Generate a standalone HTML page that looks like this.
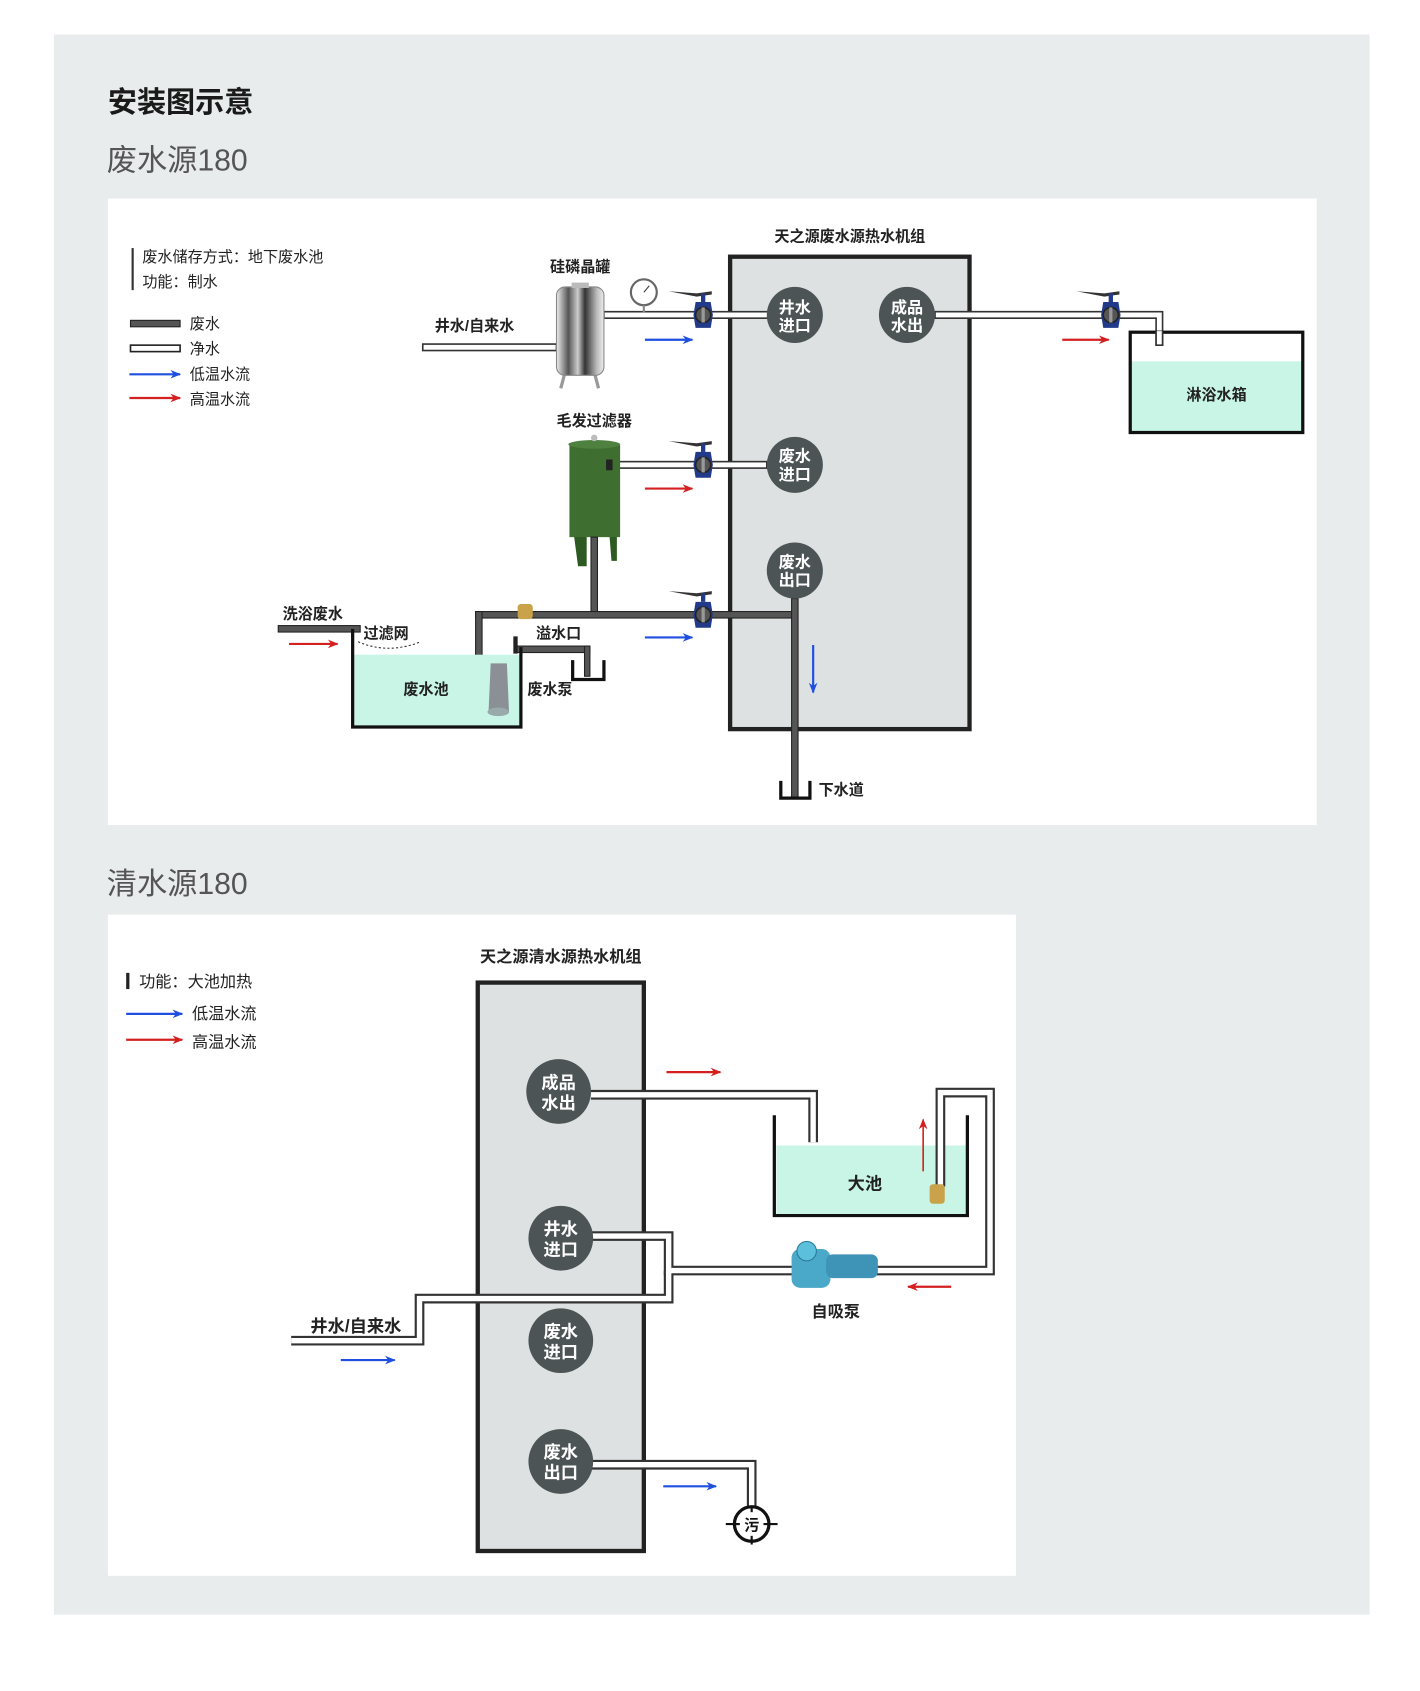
<!DOCTYPE html>
<html><head><meta charset="utf-8"><style>
html,body{margin:0;padding:0;background:#fff;}
svg{display:block;}
text{font-family:"Liberation Sans","Noto Sans CJK SC",sans-serif;}
.b{font-weight:bold;font-size:15px;fill:#222;}
.n{font-size:15px;fill:#222;}
.c{font-weight:bold;font-size:15px;fill:#fff;}
</style></head><body>
<svg width="1420" height="1691" viewBox="0 0 1316.7 1567.8" preserveAspectRatio="none" xmlns="http://www.w3.org/2000/svg">
<defs>
<marker id="ab" markerWidth="10" markerHeight="10" refX="9" refY="5" orient="auto" markerUnits="userSpaceOnUse"><path d="M0,1 L10,5 L0,9 L3,5 Z" fill="#1e4fe0"/></marker>
<marker id="ar" markerWidth="10" markerHeight="10" refX="9" refY="5" orient="auto" markerUnits="userSpaceOnUse"><path d="M0,1 L10,5 L0,9 L3,5 Z" fill="#d42020"/></marker>
<g id="valve">
<path d="M-32,-22 L-6,-20 L8,-22 L8,-19 L-6,-17 Z" fill="#333"/>
<rect x="-2" y="-20" width="4" height="8" fill="#223a8a"/>
<path d="M-7,-12 L7,-12 L9,0 L7,12 L-7,12 L-9,0 Z" fill="#223a8a"/>
<circle r="7" fill="#555" stroke="#222" stroke-width="1.5"/>
<rect x="-1.5" y="-7" width="3" height="14" fill="#999"/>
</g>
</defs>
<rect x="0" y="0" width="1320" height="1572" fill="#fff"/>
<rect x="50" y="32" width="1220" height="1465" fill="#e9ecec"/>
<text x="100" y="104" style="font-weight:bold;font-size:27px;fill:#1a1a1a">安装图示意</text>
<text x="99" y="158" style="font-size:28px;fill:#555">废水源180</text>
<text x="99" y="829" style="font-size:28px;fill:#555">清水源180</text>

<!-- PANEL 1 -->
<rect x="100" y="184" width="1121" height="581" fill="#fff"/>
<line x1="123" y1="230" x2="123" y2="269" stroke="#333" stroke-width="2"/>
<text x="132" y="243" class="n" style="font-size:14px">废水储存方式：地下废水池</text>
<text x="132" y="266" class="n" style="font-size:14px">功能：制水</text>
<rect x="121" y="297" width="46" height="6" fill="#555" stroke="#222" stroke-width="1"/>
<rect x="121" y="320" width="46" height="6" fill="#fff" stroke="#222" stroke-width="1.5"/>
<line x1="120" y1="347" x2="167" y2="347" stroke="#1e4fe0" stroke-width="2" marker-end="url(#ab)"/>
<line x1="120" y1="369" x2="167" y2="369" stroke="#d42020" stroke-width="2" marker-end="url(#ar)"/>
<text x="176" y="305" class="n" style="font-size:14px">废水</text>
<text x="176" y="328" class="n" style="font-size:14px">净水</text>
<text x="176" y="352" class="n" style="font-size:14px">低温水流</text>
<text x="176" y="375" class="n" style="font-size:14px">高温水流</text>

<text x="788" y="224" class="b" text-anchor="middle" style="font-size:14px">天之源废水源热水机组</text>
<rect x="677" y="238" width="222" height="438" fill="#dde1e1" stroke="#222" stroke-width="4"/>

<rect x="392" y="319" width="124" height="6" fill="#fff" stroke="#333" stroke-width="1.5"/>
<rect x="560" y="289" width="152" height="6" fill="#fff" stroke="#333" stroke-width="1.5"/>
<rect x="573" y="428" width="138" height="6" fill="#fff" stroke="#333" stroke-width="1.5"/>
<path d="M867,289 L1078,289 L1078,320 L1072,320 L1072,295 L867,295 Z" fill="#fff" stroke="#333" stroke-width="1.5"/>

<text x="538" y="252" class="b" text-anchor="middle" style="font-size:14px">硅磷晶罐</text>
<text x="440" y="307" class="b" text-anchor="middle" style="font-size:14px">井水/自来水</text>
<defs><linearGradient id="steel" x1="0" x2="1"><stop offset="0" stop-color="#eee"/><stop offset="0.25" stop-color="#555"/><stop offset="0.45" stop-color="#ccc"/><stop offset="0.6" stop-color="#333"/><stop offset="0.85" stop-color="#bbb"/><stop offset="1" stop-color="#eee"/></linearGradient></defs>
<path d="M520,360 L524,345 M555,360 L551,345" stroke="#999" stroke-width="3"/>
<rect x="516" y="266" width="44" height="82" rx="8" fill="url(#steel)" stroke="#888"/>
<rect x="530" y="262" width="16" height="5" fill="#bbb"/>
<circle cx="597" cy="271" r="12" fill="#fff" stroke="#666" stroke-width="2"/>
<line x1="597" y1="271" x2="602" y2="265" stroke="#333"/>
<line x1="597" y1="283" x2="597" y2="290" stroke="#888" stroke-width="2"/>
<use href="#valve" x="652" y="292"/>
<line x1="598" y1="315" x2="642" y2="315" stroke="#1e4fe0" stroke-width="2" marker-end="url(#ab)"/>

<text x="551" y="395" class="b" text-anchor="middle" style="font-size:14px">毛发过滤器</text>
<path d="M532,495 L536,525 L544,525 L544,495 Z M565,495 L567,520 L572,520 L572,495 Z" fill="#2c5a22"/>
<rect x="528" y="412" width="47" height="86" fill="#3f6f30"/>
<ellipse cx="551" cy="412" rx="24" ry="4" fill="#4e8040"/>
<rect x="562" y="426" width="6" height="10" fill="#222"/>
<circle cx="551" cy="406" r="3" fill="#bbb"/>
<use href="#valve" x="652" y="431"/>
<line x1="598" y1="453" x2="642" y2="453" stroke="#d42020" stroke-width="2" marker-end="url(#ar)"/>

<g fill="#555" stroke="#222" stroke-width="1">
<rect x="548" y="498" width="6" height="72"/>
<rect x="441" y="567" width="298" height="6"/>
<rect x="441" y="567" width="6" height="78"/>
<rect x="734" y="555" width="6" height="185"/>
<rect x="258" y="580" width="76" height="6"/>
<rect x="477" y="599" width="70" height="6"/>
<rect x="542" y="599" width="5" height="28"/>
</g>
<rect x="476" y="590" width="4" height="16" fill="#222"/>
<path d="M531,612 L531,630 L560,630 L560,612" fill="none" stroke="#111" stroke-width="3"/>
<path d="M724,724 L724,740 L751,740 L751,724" fill="none" stroke="#111" stroke-width="3"/>
<rect x="480" y="560" width="14" height="14" rx="3" fill="#c9a24a"/>
<use href="#valve" x="652" y="570"/>
<line x1="598" y1="591" x2="642" y2="591" stroke="#1e4fe0" stroke-width="2" marker-end="url(#ab)"/>
<line x1="754" y1="598" x2="754" y2="642" stroke="#1e4fe0" stroke-width="2" marker-end="url(#ab)"/>
<text x="780" y="737" class="b" text-anchor="middle" style="font-size:14px">下水道</text>

<text x="290" y="574" class="b" text-anchor="middle" style="font-size:14px">洗浴废水</text>
<text x="358" y="592" class="b" text-anchor="middle" style="font-size:14px">过滤网</text>
<path d="M332,595 Q360,607 390,595" fill="none" stroke="#333" stroke-dasharray="2,2"/>
<line x1="268" y1="597" x2="313" y2="597" stroke="#d42020" stroke-width="2" marker-end="url(#ar)"/>
<rect x="328" y="607" width="154" height="66" fill="#c8f5e6"/>
<path d="M327,583 L327,674 L483,674 L483,600" fill="none" stroke="#111" stroke-width="3"/>
<text x="395" y="644" class="b" text-anchor="middle" style="font-size:14px">废水池</text>
<path d="M455,615 L470,615 L472,660 L453,660 Z" fill="#8a9096"/>
<ellipse cx="462" cy="660" rx="10" ry="4" fill="#9aa"/>
<text x="518" y="592" class="b" text-anchor="middle" style="font-size:14px">溢水口</text>
<text x="510" y="644" class="b" text-anchor="middle" style="font-size:14px">废水泵</text>

<rect x="1049" y="335" width="158" height="65" fill="#c8f5e6"/>
<rect x="1048" y="308" width="160" height="93" fill="none" stroke="#111" stroke-width="3"/>
<path d="M1072,307 L1072,320 L1078,320 L1078,307" fill="#fff" stroke="#333" stroke-width="1.5"/>
<text x="1128" y="371" class="b" text-anchor="middle" style="font-size:14px">淋浴水箱</text>
<use href="#valve" x="1030" y="292"/>
<line x1="985" y1="315" x2="1028" y2="315" stroke="#d42020" stroke-width="2" marker-end="url(#ar)"/>

<g fill="#4d5456"><circle cx="737" cy="292" r="26"/><circle cx="841" cy="292" r="26"/><circle cx="737" cy="431" r="26"/><circle cx="737" cy="529" r="26"/></g>
<text x="737" y="290" class="c" text-anchor="middle">井水</text><text x="737" y="307" class="c" text-anchor="middle">进口</text>
<text x="841" y="290" class="c" text-anchor="middle">成品</text><text x="841" y="307" class="c" text-anchor="middle">水出</text>
<text x="737" y="428" class="c" text-anchor="middle">废水</text><text x="737" y="445" class="c" text-anchor="middle">进口</text>
<text x="737" y="526" class="c" text-anchor="middle">废水</text><text x="737" y="543" class="c" text-anchor="middle">出口</text>

<!-- PANEL 2 -->
<rect x="100" y="848" width="842" height="613" fill="#fff"/>
<rect x="117" y="902" width="3" height="15" fill="#222"/>
<text x="129" y="915" class="n">功能：大池加热</text>
<line x1="117" y1="940" x2="169" y2="940" stroke="#1e4fe0" stroke-width="2" marker-end="url(#ab)"/>
<line x1="117" y1="964" x2="169" y2="964" stroke="#d42020" stroke-width="2" marker-end="url(#ar)"/>
<text x="178" y="945" class="n">低温水流</text>
<text x="178" y="971" class="n">高温水流</text>
<text x="520" y="892" class="b" text-anchor="middle">天之源清水源热水机组</text>
<rect x="443" y="911" width="154" height="527" fill="#dde1e1" stroke="#222" stroke-width="4"/>

<rect x="720" y="1062" width="176" height="64" fill="#c8f5e6"/>
<path d="M718,1034 L718,1127 L897,1127 L897,1034" fill="none" stroke="#111" stroke-width="3"/>
<text x="802" y="1103" class="b" text-anchor="middle" style="font-size:16px">大池</text>
<line x1="856" y1="1086" x2="856" y2="1038" stroke="#d42020" stroke-width="1.5" marker-end="url(#ar)"/>

<g fill="none" stroke-linejoin="miter">
<g stroke="#333" stroke-width="9">
<path d="M548,1015 L754,1015 L754,1059"/>
<path d="M548,1146 L620,1146 L620,1178 L918,1178 L918,1013 L872,1013 L872,1100"/>
<path d="M270,1243 L389,1243 L389,1204 L620,1204 L620,1178"/>
<path d="M548,1358 L697,1358 L697,1398"/>
</g>
<g stroke="#fff" stroke-width="5">
<path d="M548,1015 L754,1015 L754,1059"/>
<path d="M548,1146 L620,1146 L620,1178 L918,1178 L918,1013 L872,1013 L872,1100"/>
<path d="M270,1243 L389,1243 L389,1204 L620,1204 L620,1178"/>
<path d="M548,1358 L697,1358 L697,1398"/>
</g>
</g>
<rect x="862" y="1098" width="14" height="18" rx="3" fill="#c9a24a"/>
<line x1="618" y1="994" x2="668" y2="994" stroke="#d42020" stroke-width="2" marker-end="url(#ar)"/>
<line x1="882" y1="1193" x2="842" y2="1193" stroke="#d42020" stroke-width="2" marker-end="url(#ar)"/>
<line x1="316" y1="1261" x2="366" y2="1261" stroke="#1e4fe0" stroke-width="2" marker-end="url(#ab)"/>
<line x1="615" y1="1378" x2="664" y2="1378" stroke="#1e4fe0" stroke-width="2" marker-end="url(#ab)"/>
<text x="330" y="1235" class="b" text-anchor="middle" style="font-size:16px">井水/自来水</text>

<rect x="734" y="1158" width="36" height="36" rx="8" fill="#4aa8c8"/>
<rect x="766" y="1163" width="48" height="22" rx="6" fill="#3d94b6"/>
<circle cx="748" cy="1160" r="9" fill="#5cc0dc" stroke="#2a7a96"/>
<text x="775" y="1221" class="b" text-anchor="middle" style="font-size:15px">自吸泵</text>

<circle cx="697" cy="1413" r="16" fill="#fff" stroke="#111" stroke-width="3"/>
<line x1="673" y1="1413" x2="721" y2="1413" stroke="#111" stroke-width="2"/>
<line x1="697" y1="1396" x2="697" y2="1432" stroke="#111" stroke-width="2"/>
<circle cx="697" cy="1413" r="11" fill="#fff"/>
<text x="697" y="1419" text-anchor="middle" style="font-size:14px;font-weight:bold;fill:#111">污</text>

<g fill="#4d5456"><circle cx="518" cy="1012" r="30"/><circle cx="520" cy="1148" r="30"/><circle cx="520" cy="1243" r="30"/><circle cx="520" cy="1355" r="30"/></g>
<text x="518" y="1009" class="c" text-anchor="middle" style="font-size:16px">成品</text><text x="518" y="1028" class="c" text-anchor="middle" style="font-size:16px">水出</text>
<text x="520" y="1145" class="c" text-anchor="middle" style="font-size:16px">井水</text><text x="520" y="1164" class="c" text-anchor="middle" style="font-size:16px">进口</text>
<text x="520" y="1240" class="c" text-anchor="middle" style="font-size:16px">废水</text><text x="520" y="1259" class="c" text-anchor="middle" style="font-size:16px">进口</text>
<text x="520" y="1352" class="c" text-anchor="middle" style="font-size:16px">废水</text><text x="520" y="1371" class="c" text-anchor="middle" style="font-size:16px">出口</text>
</svg>
</body></html>
